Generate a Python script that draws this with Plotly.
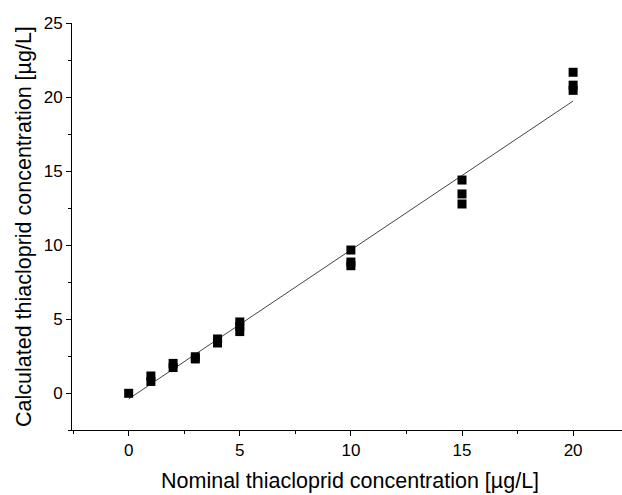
import plotly.graph_objects as go

nominal = [0, 1, 1, 2, 2, 3, 3, 4, 4, 5, 5, 5, 10, 10, 10, 15, 15, 15, 20, 20, 20]
calculated = [-0.02, 1.15, 0.78, 2.0, 1.72, 2.45, 2.3, 3.65, 3.38, 4.8, 4.5, 4.15,
              9.66, 8.85, 8.6, 14.39, 13.45, 12.77, 21.67, 20.8, 20.45]
fit_x = [0, 20]
fit_y = [-0.4, 19.73]
x_ticks = [0, 5, 10, 15, 20]
y_ticks = [0, 5, 10, 15, 20, 25]

FONT = "Liberation Sans, Arial"

fig = go.Figure()
fig.add_trace(go.Scatter(x=fit_x, y=fit_y, mode="lines",
                         line=dict(color="#444444", width=1), showlegend=False))
fig.add_trace(go.Scatter(x=nominal, y=calculated, mode="markers",
                         marker=dict(symbol="square", size=9, color="black"),
                         showlegend=False))

axis_common = dict(showgrid=False, zeroline=False, showline=True, linecolor="black",
                   linewidth=1, ticks="outside", ticklen=5, tickwidth=1, tickcolor="black",
                   automargin=False,
                   tickfont=dict(family=FONT, size=17, color="black"),
                   minor=dict(ticks="outside", ticklen=3, tickwidth=1, tickcolor="black", dtick=2.5))

fig.update_xaxes(range=[-2.55, 22.2], tickvals=x_ticks, **axis_common)
fig.update_yaxes(range=[-2.5, 25], tickvals=y_ticks, **axis_common)

fig.update_layout(
    width=622, height=495,
    margin=dict(l=72, r=0, t=23, b=65, autoexpand=False),
    plot_bgcolor="white", paper_bgcolor="white",
    hovermode=False,
    annotations=[
        dict(text="Nominal thiacloprid concentration [µg/L]", xref="paper", yref="paper",
             x=(350 - 72) / 550, y=(430 - 481) / 407, xanchor="center", yanchor="middle",
             showarrow=False, font=dict(family=FONT, size=21.5, color="black")),
        dict(text="Calculated thiacloprid concentration [µg/L]", xref="paper", yref="paper",
             x=(24 - 72) / 550, y=(430 - 227) / 407, xanchor="center", yanchor="middle", textangle=-90,
             showarrow=False, font=dict(family=FONT, size=21.5, color="black")),
    ],
)

fig.write_html("out.html", config={"displayModeBar": False},
               post_script="document.body.style.margin='0';document.body.style.overflow='hidden';")
